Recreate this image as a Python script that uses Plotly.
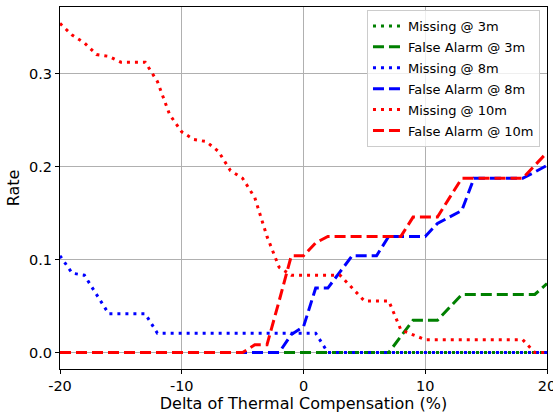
import plotly.graph_objects as go

# x positions: delta of thermal compensation (%)
delta = [-20, -19, -18, -17, -16, -15, -14, -13, -12, -11, -10, -9, -8, -7, -6, -5, -4, -3, -2, -1,
         0, 1, 2, 3, 4, 5, 6, 7, 8, 9, 10, 11, 12, 13, 14, 15, 16, 17, 18, 19, 20]

missing_3m = [0, 0, 0, 0, 0, 0, 0, 0, 0, 0, 0, 0, 0, 0, 0, 0, 0, 0, 0, 0,
              0, 0, 0, 0, 0, 0, 0, 0, 0, 0, 0, 0, 0, 0, 0, 0, 0, 0, 0, 0, 0]

false_alarm_3m = [0, 0, 0, 0, 0, 0, 0, 0, 0, 0, 0, 0, 0, 0, 0, 0, 0, 0, 0, 0,
                  0, 0, 0, 0, 0, 0, 0, 0, 0.0174, 0.0347, 0.0347, 0.0347, 0.0486, 0.0625, 0.0625,
                  0.0625, 0.0625, 0.0625, 0.0625, 0.0625, 0.0743]

missing_8m = [0.1042, 0.0854, 0.0833, 0.0625, 0.0417, 0.0417, 0.0417, 0.0417, 0.0208, 0.0208,
              0.0208, 0.0208, 0.0208, 0.0208, 0.0208, 0.0208, 0.0208, 0.0208, 0.0208, 0.0208,
              0.0208, 0.0208, 0, 0, 0, 0, 0, 0, 0, 0, 0, 0, 0, 0, 0, 0, 0, 0, 0, 0, 0]

false_alarm_8m = [0, 0, 0, 0, 0, 0, 0, 0, 0, 0, 0, 0, 0, 0, 0, 0, 0, 0, 0, 0.0194,
                  0.0278, 0.0694, 0.0694, 0.0868, 0.1042, 0.1042, 0.1042, 0.125, 0.125, 0.125,
                  0.125, 0.1389, 0.1458, 0.1528, 0.1875, 0.1875, 0.1875, 0.1875, 0.1875, 0.1944, 0.2014]

missing_10m = [0.3542, 0.3417, 0.3333, 0.3208, 0.3188, 0.3125, 0.3125, 0.3125, 0.2917, 0.2563,
               0.2375, 0.2292, 0.2271, 0.2167, 0.1958, 0.1875, 0.1667, 0.125, 0.0917, 0.0833,
               0.0833, 0.0833, 0.0833, 0.0833, 0.0694, 0.0556, 0.0556, 0.0556, 0.0243, 0.0194,
               0.0139, 0.0139, 0.0139, 0.0139, 0.0139, 0.0139, 0.0139, 0.0139, 0.0139, 0, 0]

false_alarm_10m = [0, 0, 0, 0, 0, 0, 0, 0, 0, 0, 0, 0, 0, 0, 0, 0, 0.0083, 0.0083, 0.0556, 0.1042,
                   0.1042, 0.1181, 0.125, 0.125, 0.125, 0.125, 0.125, 0.125, 0.125, 0.1458,
                   0.1458, 0.1458, 0.1667, 0.1875, 0.1875, 0.1875, 0.1875, 0.1875, 0.1875, 0.2014, 0.2153]

x_ticks = [-20, -10, 0, 10, 20]
x_tick_labels = ["-20", "-10", "0", "10", "20"]
y_ticks = [0.0, 0.1, 0.2, 0.3]
y_tick_labels = ["0.0", "0.1", "0.2", "0.3"]

DOT = "3px,5px"
DASH = "11px,5px"
FONT = "DejaVu Sans"

series = [
    ("Missing @ 3m", missing_3m, "#008000", DOT),
    ("False Alarm @ 3m", false_alarm_3m, "#008000", DASH),
    ("Missing @ 8m", missing_8m, "#0000ff", DOT),
    ("False Alarm @ 8m", false_alarm_8m, "#0000ff", DASH),
    ("Missing @ 10m", missing_10m, "#ff0000", DOT),
    ("False Alarm @ 10m", false_alarm_10m, "#ff0000", DASH),
]

fig = go.Figure()
for i, (name, vals, color, dash) in enumerate(series):
    fig.add_trace(go.Scatter(
        x=delta, y=vals, mode="lines", name=name, legendgroup=str(i),
        line=dict(color=color, width=3, dash=dash),
    ))

axis_common = dict(
    showline=True, linecolor="black", linewidth=1, mirror=True,
    ticks="outside", ticklen=4, tickcolor="black", tickwidth=1,
    showgrid=True, gridcolor="#b0b0b0", gridwidth=0.8, zeroline=False,
    tickfont=dict(family=FONT, size=14.5, color="black"),
    automargin=False, ticklabeloverflow="allow",
)

fig.update_layout(
    width=553, height=416,
    margin=dict(l=60, r=6, t=7, b=47),
    paper_bgcolor="white", plot_bgcolor="white",
    font=dict(family=FONT, color="black"),
    xaxis=dict(range=[-20, 20], tickvals=x_ticks, ticktext=x_tick_labels,
               title=dict(text="Delta of Thermal Compensation (%)", font=dict(family=FONT, size=16), standoff=0),
               **axis_common),
    yaxis=dict(range=[-0.0177, 0.3719], tickvals=y_ticks, ticktext=y_tick_labels,
               title=dict(text="Rate", font=dict(family=FONT, size=16), standoff=5),
               **axis_common),
    legend=dict(x=0.9856, y=0.9917, xanchor="right", yanchor="top",
                bgcolor="rgba(255,255,255,0.8)", bordercolor="#cccccc", borderwidth=1,
                font=dict(family=FONT, size=13), tracegroupgap=1),
    showlegend=True,
)

fig.write_html("out.html", config={"displayModeBar": False},
               post_script="document.body.style.margin='0px';")
